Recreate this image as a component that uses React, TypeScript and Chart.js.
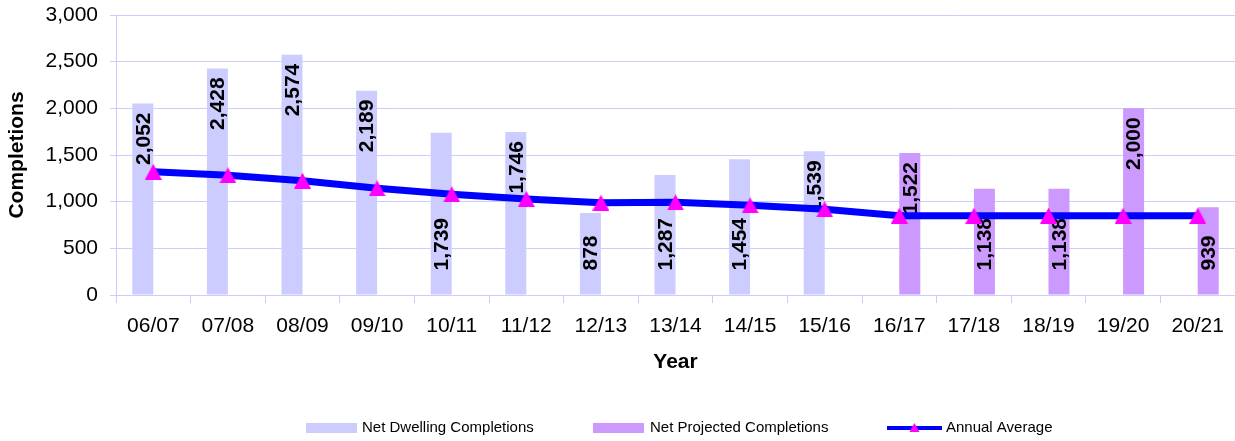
import React, { useEffect, useRef } from "react";
import { Chart, registerables } from "chart.js";

Chart.register(...registerables);

const categories = ["06/07", "07/08", "08/09", "09/10", "10/11", "11/12", "12/13", "13/14", "14/15", "15/16", "16/17", "17/18", "18/19", "19/20", "20/21"];
const netDwelling = [2052, 2428, 2574, 2189, 1739, 1746, 878, 1287, 1454, 1539, null, null, null, null, null];
const netProjected = [null, null, null, null, null, null, null, null, null, null, 1522, 1138, 1138, 2000, 939];
const annualAverage = [1320, 1283, 1225, 1143, 1079, 1029, 989, 993, 961, 918, 850, 850, 850, 850, 850];
const yTickValues = [0, 500, 1000, 1500, 2000, 2500, 3000];
// where each value label sits along its bar: near the bar end, or near the base
const labelPlacement = ["end", "end", "end", "end", "base", "end", "base", "base", "base", "end", "end", "base", "base", "end", "base"];

const seriesNames = ["Net Dwelling Completions", "Net Projected Completions", "Annual Average"];
const FONT = "'Liberation Sans', Arial, sans-serif";
const GRID = "#ccccff";
const C_DWELL = "#ccccff";
const C_PROJ = "#cc99ff";
const C_LINE = "#0000ff";
const C_MARK = "#ff00ff";

function makeTriangle(w: number, h: number): HTMLCanvasElement {
  const c = document.createElement("canvas");
  c.width = w;
  c.height = h;
  const g = c.getContext("2d")!;
  g.fillStyle = C_MARK;
  g.beginPath();
  g.moveTo(w / 2, 0);
  g.lineTo(w, h);
  g.lineTo(0, h);
  g.closePath();
  g.fill();
  return c;
}

const barLabelPlugin = {
  id: "barLabels",
  afterDatasetDraw(chart: any, args: any) {
    const meta = args.meta;
    if (meta.type !== "bar") return;
    const ds = chart.data.datasets[args.index];
    const ctx = chart.ctx;
    ctx.save();
    ctx.font = `bold 21px ${FONT}`;
    ctx.fillStyle = "#000";
    ctx.textAlign = "center";
    ctx.textBaseline = "middle";
    meta.data.forEach((el: any, i: number) => {
      const v = ds.data[i];
      if (v === null || v === undefined) return;
      const txt = Number(v).toLocaleString("en-US");
      const w = ctx.measureText(txt).width;
      const top = Math.min(el.y, el.base);
      const base = Math.max(el.y, el.base);
      const cy = labelPlacement[i] === "end" ? top + 9 + w / 2 : base - 24 - w / 2;
      ctx.save();
      ctx.translate(el.x + 1, cy);
      ctx.rotate(-Math.PI / 2);
      ctx.fillText(txt, 0, 0);
      ctx.restore();
    });
    ctx.restore();
  },
};

const legendPlugin = {
  id: "customLegend",
  afterDraw(chart: any) {
    const ctx = chart.ctx;
    const y = 428;
    ctx.save();
    ctx.font = `15px ${FONT}`;
    ctx.textAlign = "left";
    ctx.textBaseline = "middle";
    ctx.fillStyle = C_DWELL;
    ctx.fillRect(306, y - 5, 51, 10);
    ctx.fillStyle = "#000";
    ctx.fillText(seriesNames[0], 362, y);
    ctx.fillStyle = C_PROJ;
    ctx.fillRect(593, y - 5, 51, 10);
    ctx.fillStyle = "#000";
    ctx.fillText(seriesNames[1], 650, y);
    ctx.strokeStyle = C_LINE;
    ctx.lineWidth = 4;
    ctx.beginPath();
    ctx.moveTo(887, y);
    ctx.lineTo(942, y);
    ctx.stroke();
    ctx.fillStyle = C_MARK;
    ctx.beginPath();
    const cx = 914.5;
    ctx.moveTo(cx, y - 5);
    ctx.lineTo(cx + 5, y + 4);
    ctx.lineTo(cx - 5, y + 4);
    ctx.closePath();
    ctx.fill();
    ctx.fillStyle = "#000";
    ctx.fillText(seriesNames[2], 946, y);
    ctx.restore();
  },
};

export default function App() {
  const ref = useRef<HTMLCanvasElement | null>(null);
  useEffect(() => {
    if (!ref.current) return;
    const marker = makeTriangle(17, 16);
    const chart = new Chart(ref.current, {
      type: "bar",
      data: {
        labels: categories,
        datasets: [
          {
            type: "line",
            label: seriesNames[2],
            data: annualAverage,
            borderColor: C_LINE,
            backgroundColor: C_LINE,
            borderWidth: 7,
            tension: 0,
            fill: false,
            pointStyle: marker,
            pointRadius: 9,
            pointBackgroundColor: C_MARK,
            pointBorderColor: C_MARK,
            pointBorderWidth: 0,
            order: 0,
          } as any,
          {
            type: "bar",
            label: seriesNames[0],
            data: netDwelling,
            backgroundColor: C_DWELL,
            borderWidth: 0,
            categoryPercentage: 0.563,
            barPercentage: 1,
            order: 1,
          },
          {
            type: "bar",
            label: seriesNames[1],
            data: netProjected,
            backgroundColor: C_PROJ,
            borderWidth: 0,
            categoryPercentage: 0.563,
            barPercentage: 1,
            order: 2,
          },
        ],
      },
      options: {
        responsive: false,
        maintainAspectRatio: false,
        animation: false,
        events: [],
        layout: { padding: { top: 15, right: 0, left: 0, bottom: 64 } },
        plugins: {
          legend: { display: false },
          tooltip: { enabled: false },
        },
        scales: {
          x: {
            offset: true,
            grid: {
              display: true,
              drawOnChartArea: false,
              drawTicks: true,
              tickLength: 8,
              color: GRID,
              offset: true,
            },
            border: { display: true, color: GRID, width: 1 },
            ticks: {
              color: "#000",
              font: { family: FONT, size: 21 },
              padding: 11,
              maxRotation: 0,
              autoSkip: false,
            },
            title: {
              display: true,
              text: "Year",
              color: "#000",
              font: { family: FONT, size: 21, weight: "bold" },
              padding: { top: 0, bottom: 2 },
            },
            afterFit(scale: any) {
              scale.height = 82;
              scale.paddingLeft = 0;
              scale.paddingRight = 0;
            },
          },
          y: {
            min: 0,
            max: 3000,
            afterBuildTicks(scale: any) {
              scale.ticks = yTickValues.map((v) => ({ value: v }));
            },
            grid: { color: GRID, tickLength: 6, drawTicks: true },
            border: { display: true, color: GRID, width: 1 },
            ticks: {
              color: "#000",
              font: { family: FONT, size: 21 },
              padding: 12,
              callback: (v: any) => Number(v).toLocaleString("en-US"),
            },
            title: {
              display: true,
              text: "Completions",
              color: "#000",
              font: { family: FONT, size: 21, weight: "bold" },
              padding: { top: 5, bottom: 0 },
            },
            afterFit(scale: any) {
              scale.width = 116;
              scale.paddingTop = 0;
              scale.paddingBottom = 0;
            },
          },
        },
      },
      plugins: [barLabelPlugin, legendPlugin],
    });
    return () => chart.destroy();
  }, []);
  return (
    <div style={{ position: "fixed", left: 0, top: 0, width: 1235, height: 441, background: "#fff", overflow: "hidden" }}>
      <canvas ref={ref} width={1244} height={441} style={{ display: "block" }} />
    </div>
  );
}
